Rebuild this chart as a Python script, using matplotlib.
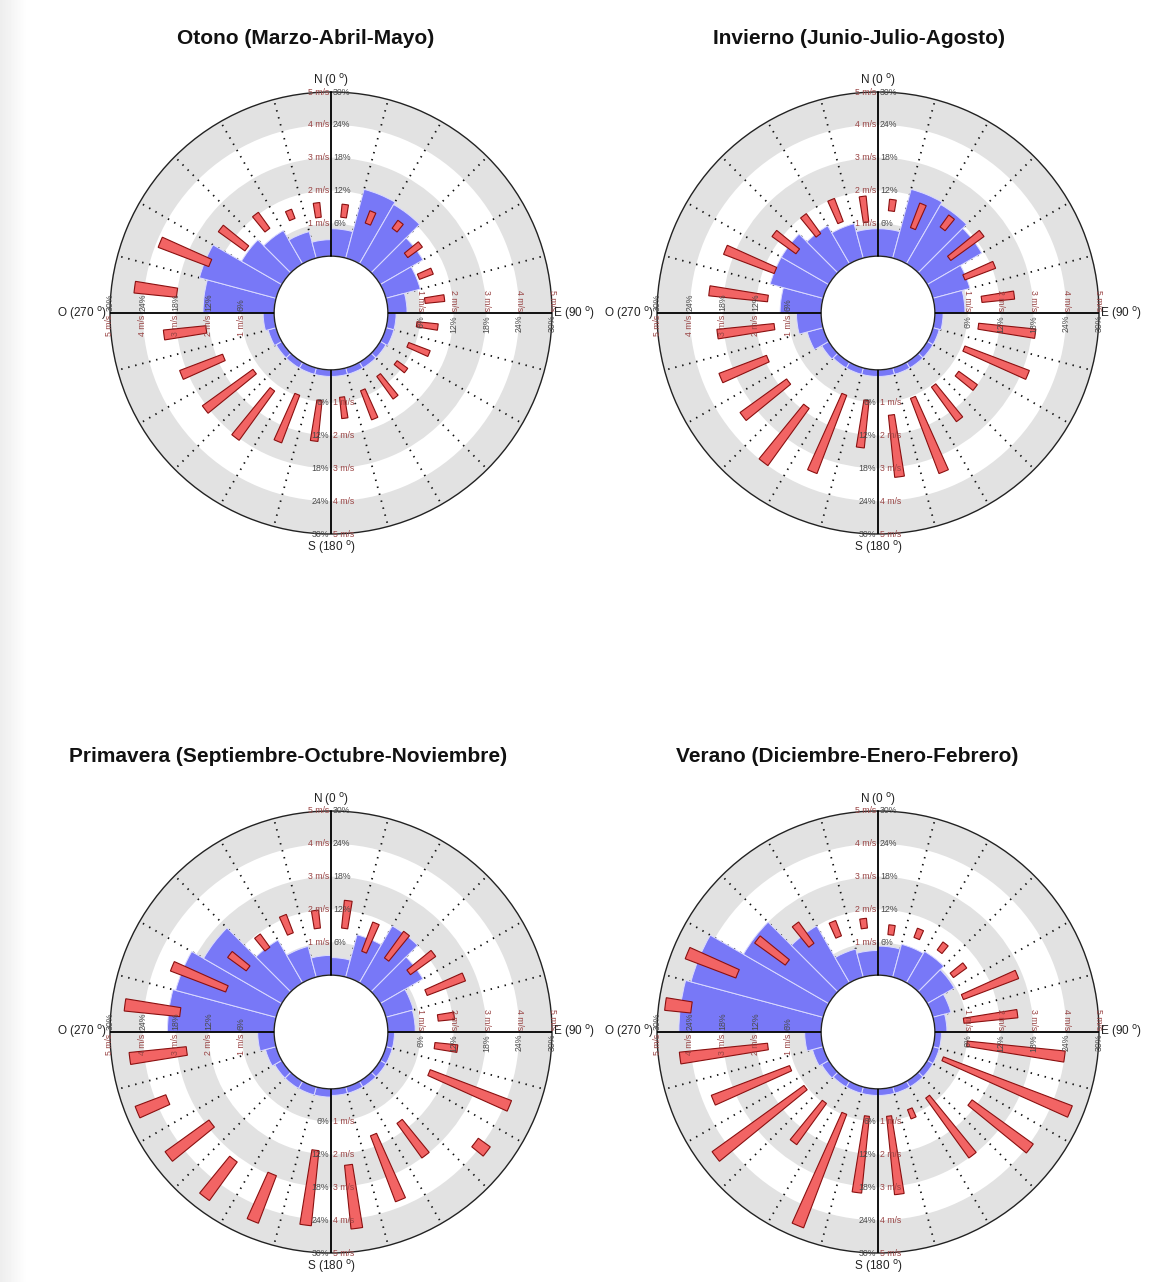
import numpy as np
import matplotlib
matplotlib.use("Agg")
import matplotlib.pyplot as plt

# ---------------------------------------------------------------
# Data: 24 direction sectors (15 deg wide), clockwise from north
# freq_* : frequency of each sector (%)
# lo_*/hi_* : wind speed range drawn as floating bars (m/s)
# ---------------------------------------------------------------
SECTOR_DEG = np.arange(24) * 15 + 7.5

TITLES = ["Otono (Marzo-Abril-Mayo)",
          "Invierno (Junio-Julio-Agosto)",
          "Primavera (Septiembre-Octubre-Noviembre)",
          "Verano (Diciembre-Enero-Febrero)"]

freq_otono = [5, 13, 12.5, 9, 6.5, 3.5, 1.5, 1.5, 1.2, 1.2, 1.2, 1.2,
              1.2, 1.2, 1.2, 1.2, 1.5, 2, 13, 14.5, 8.5, 7, 5, 3]
lo_otono = [1.2, 1.2, 1.45, 1.15, 1.15, 1.15, 0.9, 0.8, 0.75, 0.65, 0.8, 0.85,
            0.95, 0.95, 1.2, 1.2, 1.8, 2.1, 3.0, 2.25, 1.5, 1.45, 1.35, 1.2]
hi_otono = [1.6, 1.6, 1.75, 1.7, 1.6, 1.75, 1.55, 1.5, 1.15, 1.5, 1.75, 1.5,
            2.2, 2.5, 3.05, 3.1, 3.2, 3.4, 4.3, 3.9, 2.5, 2.05, 1.65, 1.65]

freq_invierno = [5, 13, 12.5, 11.5, 7, 5.5, 1.5, 1.2, 1.2, 1.2, 1.2, 1.2,
                 1.2, 1.2, 1.2, 1.5, 3, 4.5, 7.5, 10, 10, 8, 6.5, 5]
lo_invierno = [1.4, 1.05, 1.5, 1.0, 1.1, 1.45, 1.35, 1.1, 1.3, 1.05, 1.05, 1.4,
               0.95, 0.95, 1.85, 1.7, 1.9, 1.45, 1.65, 1.65, 1.35, 1.25, 1.25, 1.05]
hi_invierno = [1.75, 1.85, 1.95, 2.25, 2.1, 2.45, 3.1, 3.2, 2.0, 2.35, 3.5, 3.3,
               2.4, 3.5, 4.0, 3.45, 3.45, 3.2, 3.45, 3.3, 2.25, 2.0, 2.0, 1.85]

freq_primavera = [3.2, 8, 12, 9, 5.2, 5, 1.2, 1.2, 1.2, 1.2, 1.2, 1.2,
                  1.5, 1.5, 1.5, 1.5, 2, 3, 19.5, 19, 16.5, 9, 5.8, 3.6]
lo_primavera = [1.45, 0.9, 1.05, 1.25, 1.4, 1.55, 1.45, 1.5, 3.8, 1.7, 1.65, 2.35,
                1.9, 2.95, 3.15, 2.85, 3.65, 2.7, 2.9, 1.7, 1.45, 1.45, 1.5, 1.45]
hi_primavera = [2.3, 1.85, 2.05, 2.2, 2.65, 2.05, 2.15, 4.15, 4.25, 3.0, 3.8, 4.3,
                4.2, 4.5, 4.6, 4.5, 4.65, 4.45, 4.6, 3.5, 2.15, 1.95, 2.1, 2.0]

freq_verano = [5.3, 6.2, 6.6, 5.7, 3.4, 2.2, 1.2, 1.2, 1.2, 1.2, 1.2, 1.2,
               1.2, 1.2, 1.2, 1.5, 2, 3, 26, 25, 18, 12, 5.3, 4.5]
lo_verano = [1.25, 1.35, 1.35, 1.1, 1.05, 0.9, 1.0, 0.4, 1.8, 0.75, 0.8, 0.85,
             0.85, 0.95, 0.95, 1.05, 1.15, 1.65, 4.0, 2.9, 1.75, 1.6, 1.4, 1.45]
hi_verano = [1.55, 1.65, 1.65, 1.6, 2.85, 2.55, 4.0, 4.6, 4.1, 3.0, 1.1, 3.25,
             3.2, 4.65, 2.5, 4.5, 3.7, 4.35, 4.8, 4.55, 2.9, 2.4, 1.9, 1.75]

PCT_TICKS = [6, 12, 18, 24, 30]
MS_TICKS = [1, 2, 3, 4, 5]
MS_TO_PCT = 6.0          # 1 m/s on the speed scale sits on the 6 % ring
HOLE = 10.4              # empty centre, in % units

PANELS = [
    (TITLES[0], freq_otono, lo_otono, hi_otono),
    (TITLES[1], freq_invierno, lo_invierno, hi_invierno),
    (TITLES[2], freq_primavera, lo_primavera, hi_primavera),
    (TITLES[3], freq_verano, lo_verano, hi_verano),
]

# panel centres / radius in pixels, title centres
W, H = 1156, 1282
CENTERS = [(331, 313), (878, 313), (331, 1032), (878, 1032)]
RADIUS = 221
TITLE_POS = [(306, 38), (859, 38), (288, 757), (847, 757)]

BAND = "#e2e2e2"
BLUE = (0.47, 0.47, 0.97)
RED_FILL = "#f26464"
RED_EDGE = "#8a1010"
MS_COLOR = "#9a4646"
PCT_COLOR = "#4a4a4a"
NARROW = ["Liberation Sans Narrow", "Liberation Sans", "DejaVu Sans"]
SANS = ["Liberation Sans", "DejaVu Sans"]

fig = plt.figure(figsize=(W / 100, H / 100), dpi=100)
fig.patch.set_facecolor("white")

# faint page-edge shading on the left
edge = fig.add_axes([0, 0, 28 / W, 1])
edge.imshow(np.linspace(0.93, 1.0, 28)[None, :], cmap="gray", vmin=0, vmax=1,
            aspect="auto", extent=[0, 1, 0, 1])
edge.set_axis_off()


def wind_rose(ax, freq, lo, hi):
    th = np.deg2rad(SECTOR_DEG)
    ax.set_theta_zero_location("N")
    ax.set_theta_direction(-1)
    ax.set_rorigin(-HOLE)
    ax.set_ylim(0, 30)
    ax.set_xticks([])
    ax.set_yticks([])
    ax.grid(False)
    ax.set_facecolor("white")
    for sp in ax.spines.values():
        sp.set_linewidth(1.0)
        sp.set_color("#222222")

    # alternating grey rings
    for r0 in (0, 12, 24):
        ax.bar(0, 6, width=2 * np.pi, bottom=r0, color=BAND,
               edgecolor="none", zorder=0.5)

    # dotted sector lines
    for d in range(0, 360, 15):
        if d % 90 == 0:
            continue
        t = np.deg2rad(d)
        ax.plot([t, t], [0, 30], color="#111111", lw=1.3,
                linestyle=(0, (0.8, 3.2)), zorder=1)

    # frequency bars
    ax.bar(th, freq, width=np.deg2rad(15), bottom=0, color=BLUE,
           edgecolor=(0.86, 0.86, 1.0), linewidth=0.7, zorder=2)

    # main axes N-S / E-W
    for d in (0, 90, 180, 270):
        t = np.deg2rad(d)
        ax.plot([t, t], [0, 30], color="black", lw=1.3, zorder=3)

    # speed range bars
    lo = np.asarray(lo) * MS_TO_PCT
    hi = np.asarray(hi) * MS_TO_PCT
    ax.bar(th, hi - lo, width=np.deg2rad(3.4), bottom=lo, color=RED_FILL,
           edgecolor=RED_EDGE, linewidth=0.8, zorder=4)

    kw = dict(textcoords="offset points", fontsize=6.3, zorder=6,
              family=SANS, annotation_clip=False)
    for p, m in zip(PCT_TICKS, MS_TICKS):
        # north
        ax.annotate(f"{m} m/s", xy=(0, p), xytext=(-1.5, 0), ha="right",
                    va="center", color=MS_COLOR, **kw)
        ax.annotate(f"{p}%", xy=(0, p), xytext=(1.5, 0), ha="left",
                    va="center", color=PCT_COLOR, **kw)
        # south
        ax.annotate(f"{p}%", xy=(np.pi, p), xytext=(-1.5, 0), ha="right",
                    va="center", color=PCT_COLOR, **kw)
        ax.annotate(f"{m} m/s", xy=(np.pi, p), xytext=(1.5, 0), ha="left",
                    va="center", color=MS_COLOR, **kw)
        # east
        ax.annotate(f"{m} m/s", xy=(np.pi / 2, p), xytext=(0, 1.5),
                    ha="center", va="bottom", rotation=-90,
                    color=MS_COLOR, **kw)
        ax.annotate(f"{p}%", xy=(np.pi / 2, p), xytext=(0, -1.5),
                    ha="center", va="top", rotation=90,
                    color=PCT_COLOR, **kw)
        # west
        ax.annotate(f"{p}%", xy=(1.5 * np.pi, p), xytext=(0, 1.5),
                    ha="center", va="bottom", rotation=90,
                    color=PCT_COLOR, **kw)
        ax.annotate(f"{m} m/s", xy=(1.5 * np.pi, p), xytext=(0, -1.5),
                    ha="center", va="top", rotation=90,
                    color=MS_COLOR, **kw)

    lk = dict(textcoords="offset points", fontsize=8.5, color="#222222",
              family=SANS, zorder=6, annotation_clip=False)
    ax.annotate(r"N (0 $^{\mathrm{o}}$)", xy=(0, 30), xytext=(0, 2),
                ha="center", va="bottom", **lk)
    ax.annotate(r"S (180 $^{\mathrm{o}}$)", xy=(np.pi, 30), xytext=(0, -3.5),
                ha="center", va="top", **lk)
    ax.annotate(r"E (90 $^{\mathrm{o}}$)", xy=(np.pi / 2, 30), xytext=(1, 0),
                ha="left", va="center", **lk)
    ax.annotate(r"O (270 $^{\mathrm{o}}$)", xy=(1.5 * np.pi, 30),
                xytext=(-2, 0), ha="right", va="center", **lk)


for (title, freq, lo, hi), (cx, cy), (tx, ty) in zip(PANELS, CENTERS, TITLE_POS):
    rect = [(cx - RADIUS) / W, 1 - (cy + RADIUS) / H,
            2 * RADIUS / W, 2 * RADIUS / H]
    ax = fig.add_axes(rect, projection="polar")
    wind_rose(ax, freq, lo, hi)
    fig.text(tx / W, 1 - ty / H, title, ha="center", va="center",
             fontsize=15, fontweight="bold", family=NARROW, color="#111111")

fig.savefig("out.png", dpi=100)
